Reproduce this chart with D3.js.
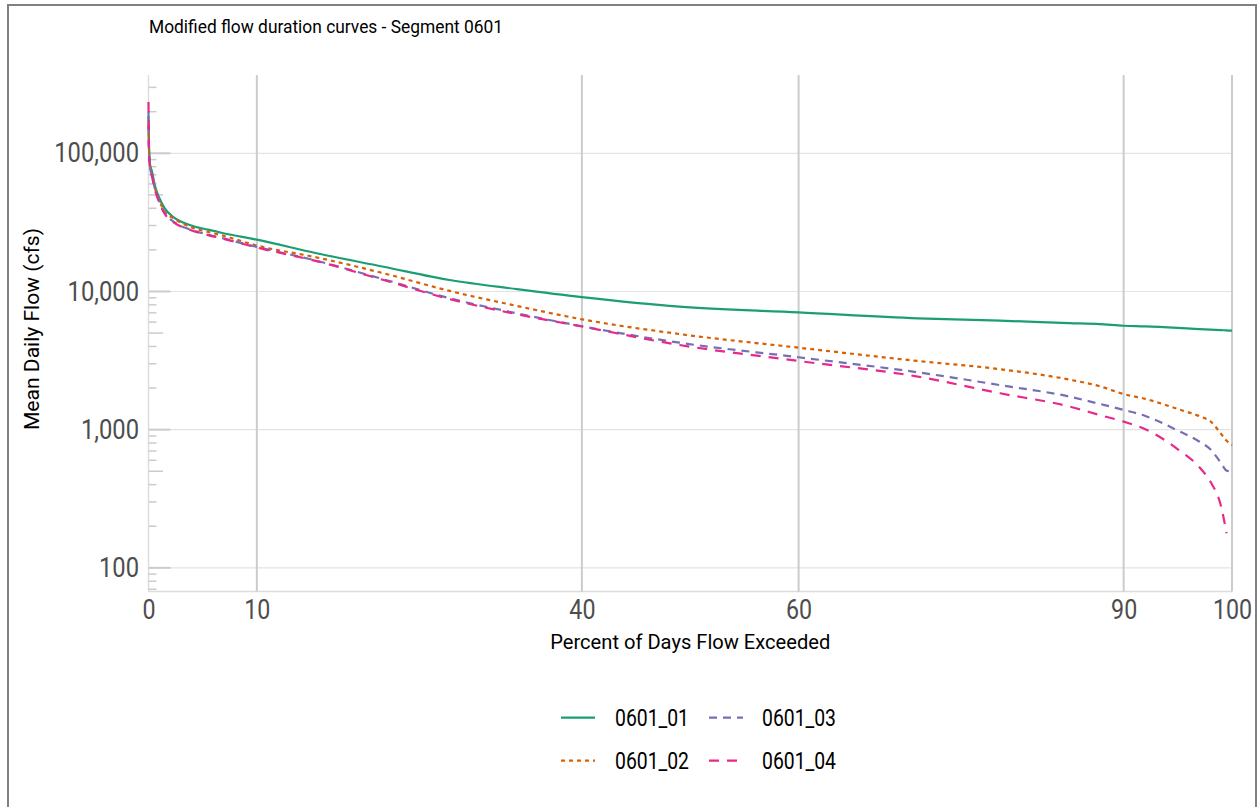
<!DOCTYPE html>
<html><head><meta charset="utf-8">
<script src="https://cdn.jsdelivr.net/npm/d3@7"></script>
<style>
body{margin:0;background:#fff;}
svg{display:block;font-family:Roboto, "Noto Sans", sans-serif;}
</style>
</head><body>
<svg id="chart" width="1259" height="807"></svg>
<script>
// ---------------- data ----------------
const chartTitle = "Modified flow duration curves - Segment 0601";
const xAxisTitle = "Percent of Days Flow Exceeded";
const yAxisTitle = "Mean Daily Flow (cfs)";
const seriesNames = ["0601_01", "0601_02", "0601_03", "0601_04"];
const xTickValues = [0, 10, 40, 60, 90, 100];
const yTickValues = [100, 1000, 10000, 100000];

const percentExceeded = [0, 0.05, 0.15, 0.3, 0.6, 1.0, 1.5, 2.3, 3.8, 5.5, 6.9, 10, 15.5, 21.7, 27.8, 34, 40, 49, 60, 71, 78.6, 85, 87.8, 90, 92, 95, 97, 98, 99, 99.5, 100];
const flow0601_01 = [185000, 110000, 82000, 75000, 58000, 47500, 40000, 34500, 30300, 28000, 26400, 23700, 18900, 15100, 12100, 10400, 9100, 7760, 7060, 6390, 6150, 5900, 5800, 5650, 5590, 5450, 5340, 5300, 5250, 5230, 5200];
const flow0601_02 = [160000, 105000, 80000, 72000, 56000, 45500, 37800, 33900, 29400, 27000, 25300, 21500, 17660, 13540, 10090, 7860, 6290, 4920, 3920, 3140, 2740, 2300, 2060, 1810, 1670, 1410, 1250, 1150, 930, 830, 774];
const flow0601_03 = [200000, 102000, 78000, 70000, 55000, 44700, 36800, 32000, 28200, 25800, 24200, 21000, 16700, 12240, 8930, 6950, 5600, 4260, 3340, 2600, 2100, 1735, 1535, 1390, 1256, 985, 818, 721, 572, 505, 497];
const flow0601_04 = [235000, 100000, 78000, 69000, 54000, 44000, 36500, 31800, 28000, 25600, 24100, 20800, 16600, 12100, 8800, 6850, 5580, 4100, 3140, 2420, 1833, 1470, 1276, 1143, 1007, 721, 534, 421, 277, 178, null];

// ---------------- drawing ----------------
const svg = d3.select("#chart");
const plot = {left: 148.5, right: 1232, top: 75, bottom: 591.5};

const x = d3.scaleLinear().domain([0, 100]).range([plot.left, plot.right]);
const y = d3.scaleLog().domain([67.4, 368700]).range([plot.bottom, plot.top]);

const styles = [
  {color: "#1b9e77", dash: null},
  {color: "#d95f02", dash: "4,4"},
  {color: "#7570b3", dash: "8,6"},
  {color: "#e7298a", dash: "10,8"}
];
const seriesValues = [flow0601_01, flow0601_02, flow0601_03, flow0601_04];

function condense(sel, f) {
  sel.each(function () {
    const w = this.getComputedTextLength();
    this.setAttribute("textLength", w * f);
    this.setAttribute("lengthAdjust", "spacingAndGlyphs");
  });
}
function fitText(sel, w) {
  sel.attr("textLength", w).attr("lengthAdjust", "spacingAndGlyphs");
}

// outer border
svg.append("rect").attr("x", 8).attr("y", 5).attr("width", 1248).attr("height", 900)
  .attr("fill", "none").attr("stroke", "#808080").attr("stroke-width", 2);

// title
svg.append("text").attr("x", 149).attr("y", 33).attr("font-size", 19).attr("fill", "#000")
  .text(chartTitle).call(fitText, 354);

// horizontal major gridlines
svg.append("g").selectAll("line").data(yTickValues).join("line")
  .attr("x1", plot.left).attr("x2", plot.right)
  .attr("y1", d => y(d)).attr("y2", d => y(d))
  .attr("stroke", "#e3e3e3").attr("stroke-width", 1.2);

// axis lines (left, bottom)
svg.append("line").attr("x1", plot.left).attr("x2", plot.left).attr("y1", plot.top).attr("y2", plot.bottom)
  .attr("stroke", "#dcdcdc").attr("stroke-width", 1.4);
svg.append("line").attr("x1", plot.left).attr("x2", plot.right).attr("y1", plot.bottom).attr("y2", plot.bottom)
  .attr("stroke", "#dcdcdc").attr("stroke-width", 1.4);

// vertical gridlines
svg.append("g").selectAll("line").data(xTickValues.filter(d => d > 0)).join("line")
  .attr("x1", d => x(d)).attr("x2", d => x(d))
  .attr("y1", plot.top).attr("y2", plot.bottom)
  .attr("stroke", "#cccccc").attr("stroke-width", 2);

// log ticks
const logTicks = [];
for (let e = 1; e <= 5; e++) for (let m = 1; m <= 9; m++) {
  const v = m * Math.pow(10, e);
  if (v >= y.domain()[0] && v <= y.domain()[1]) logTicks.push({v, m});
}
svg.append("g").selectAll("line").data(logTicks).join("line")
  .attr("x1", plot.left)
  .attr("x2", d => plot.left + (d.m === 1 ? 22 : d.m === 5 ? 14.5 : 8))
  .attr("y1", d => y(d.v)).attr("y2", d => y(d.v))
  .attr("stroke", "#cccccc").attr("stroke-width", d => d.m === 1 ? 2 : 1.5);

// y axis labels
const yAxis = svg.append("g").attr("transform", `translate(${plot.left},0)`)
  .call(d3.axisLeft(y).tickValues(yTickValues).tickFormat(d3.format(",")).tickSize(0).tickPadding(9.5));
yAxis.select(".domain").remove();
yAxis.selectAll("text").attr("font-size", 27).attr("fill", "#4d4d4d").attr("font-family", "Roboto")
  .call(condense, 0.88);

// x axis labels
const xAxis = svg.append("g").attr("transform", `translate(0,${plot.bottom})`)
  .call(d3.axisBottom(x).tickValues(xTickValues).tickFormat(d3.format("d")).tickSize(0).tickPadding(8.5));
xAxis.select(".domain").remove();
xAxis.selectAll("text").attr("font-size", 27).attr("fill", "#4d4d4d").attr("font-family", "Roboto")
  .call(condense, 0.86);

// axis titles
svg.append("text").attr("x", (plot.left + plot.right) / 2).attr("y", 649).attr("text-anchor", "middle")
  .attr("font-size", 21).attr("fill", "#000").text(xAxisTitle).call(fitText, 280);
svg.append("text").attr("transform", "translate(39,329) rotate(-90)").attr("text-anchor", "middle")
  .attr("font-size", 21).attr("fill", "#000").text(yAxisTitle).call(fitText, 202);

// lines
const line = d3.line()
  .defined(d => d.v != null)
  .x(d => x(d.p)).y(d => y(d.v))
  .curve(d3.curveMonotoneX);

const series = seriesNames.map((name, i) => ({
  name, style: styles[i],
  points: percentExceeded.map((p, j) => ({p, v: seriesValues[i][j]}))
}));

svg.append("g").selectAll("path").data(series).join("path")
  .attr("d", d => line(d.points))
  .attr("fill", "none")
  .attr("stroke", d => d.style.color)
  .attr("stroke-width", 2.2)
  .attr("stroke-dasharray", d => d.style.dash);

// legend (2 columns, column-major)
const legendCols = [{kx: 561, tx: 615}, {kx: 709, tx: 762}];
const legendRows = [717.7, 760.7];
const lg = svg.append("g").selectAll("g").data(series).join("g")
  .attr("transform", (d, i) => `translate(0,${legendRows[i % 2]})`);
lg.append("line")
  .attr("x1", (d, i) => legendCols[Math.floor(i / 2)].kx)
  .attr("x2", (d, i) => legendCols[Math.floor(i / 2)].kx + 34)
  .attr("stroke", d => d.style.color).attr("stroke-width", 2.2)
  .attr("stroke-dasharray", d => d.style.dash);
lg.append("text")
  .attr("x", (d, i) => legendCols[Math.floor(i / 2)].tx)
  .attr("y", 8.5)
  .attr("font-size", 23).attr("fill", "#000")
  .text(d => d.name).call(fitText, 74);
</script>
</body></html>
